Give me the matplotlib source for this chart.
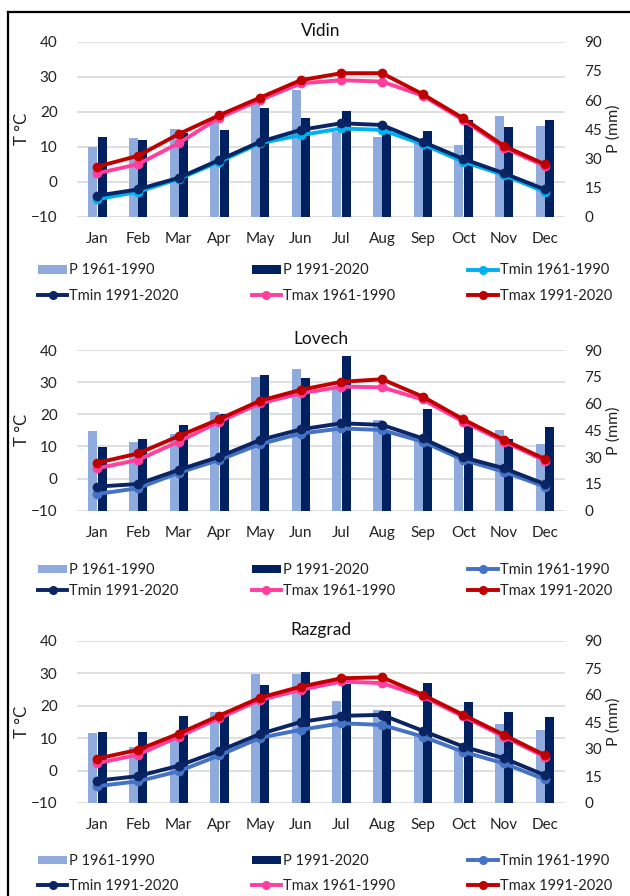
import matplotlib
matplotlib.use("Agg")
import matplotlib.pyplot as plt
from matplotlib.patches import Patch
from matplotlib.lines import Line2D
import numpy as np

plt.rcParams['font.family'] = ['Lato', 'DejaVu Sans']

months = ["Jan", "Feb", "Mar", "Apr", "May", "Jun", "Jul", "Aug", "Sep", "Oct", "Nov", "Dec"]
stations = ["Vidin", "Lovech", "Razgrad"]

# Precipitation (mm)
p_old = {
    "Vidin":   [35.7, 40.6, 44.9, 49.5, 58.3, 65.1, 43.7, 41.1, 37.7, 36.9, 51.8, 46.8],
    "Lovech":  [44.8, 38.3, 42.9, 55.5, 75.1, 79.2, 68.0, 50.8, 39.6, 31.0, 45.2, 37.3],
    "Razgrad": [38.8, 31.0, 35.7, 50.5, 71.7, 71.7, 56.7, 51.8, 37.9, 30.0, 43.7, 40.6],
}
p_new = {
    "Vidin":   [41.1, 39.4, 43.0, 44.6, 55.7, 50.9, 54.3, 45.0, 44.2, 49.5, 46.3, 49.7],
    "Lovech":  [35.8, 40.1, 48.0, 54.1, 76.0, 74.1, 86.6, 44.0, 56.8, 47.4, 40.0, 46.7],
    "Razgrad": [39.7, 39.7, 48.1, 48.6, 65.6, 72.6, 66.0, 51.2, 66.5, 55.9, 50.4, 47.6],
}
# Temperatures (deg C)
tmin_old = {
    "Vidin":   [-5.0, -2.9, 0.8, 5.7, 11.0, 13.3, 15.2, 14.8, 10.7, 5.7, 1.9, -2.9],
    "Lovech":  [-4.8, -3.0, 1.8, 5.8, 10.7, 14.0, 15.6, 15.1, 11.5, 5.8, 2.1, -2.5],
    "Razgrad": [-4.8, -3.3, -0.2, 4.7, 10.1, 12.6, 14.6, 14.1, 10.5, 5.8, 2.2, -2.7],
}
tmin_new = {
    "Vidin":   [-4.0, -2.2, 1.1, 6.2, 11.4, 14.8, 16.7, 16.2, 11.4, 6.5, 2.4, -2.2],
    "Lovech":  [-2.5, -1.7, 2.7, 6.8, 12.0, 15.3, 17.2, 16.7, 12.5, 6.6, 3.2, -1.7],
    "Razgrad": [-3.1, -1.7, 1.5, 6.1, 11.3, 15.0, 16.9, 17.2, 12.3, 7.4, 3.8, -1.4],
}
tmax_old = {
    "Vidin":   [2.4, 5.0, 11.0, 18.3, 23.3, 28.1, 29.0, 28.6, 24.6, 17.6, 9.7, 4.5],
    "Lovech":  [3.2, 5.8, 11.5, 17.7, 23.4, 26.5, 28.6, 28.4, 24.6, 17.7, 11.5, 5.6],
    "Razgrad": [2.3, 4.9, 10.5, 16.2, 21.8, 24.9, 27.5, 27.0, 22.9, 16.7, 10.5, 4.3],
}
tmax_new = {
    "Vidin":   [4.3, 7.4, 13.6, 19.0, 24.0, 29.0, 31.0, 31.0, 25.0, 18.1, 10.2, 5.0],
    "Lovech":  [4.9, 7.8, 13.2, 18.5, 24.2, 27.6, 30.1, 30.9, 25.5, 18.4, 12.0, 6.1],
    "Razgrad": [3.7, 6.4, 11.4, 17.0, 22.5, 25.9, 28.5, 28.8, 23.4, 17.2, 11.0, 4.8],
}
t_ticks = [-10, 0, 10, 20, 30, 40]
p_ticks = [0, 15, 30, 45, 60, 75, 90]

C_POLD = "#8FAADC"
C_PNEW = "#002060"
C_TMIN_OLD = {"Vidin": "#00B0F0", "Lovech": "#4472C4", "Razgrad": "#4472C4"}
C_TMIN_NEW = "#0B2463"
C_TMAX_OLD = "#FF3E9E"
C_TMAX_NEW = "#C00000"

W, H = 630, 896
fig = plt.figure(figsize=(W / 100, H / 100), dpi=100)

# panel extents in pixels (top, bottom)
panels = {"Vidin": (41.7, 216.7), "Lovech": (350, 510.7), "Razgrad": (641, 803)}
legend_rows = {"Vidin": (270, 296), "Lovech": (570, 591), "Razgrad": (861, 886)}
legend_spacing = {"Vidin": 0.78, "Lovech": 0.45, "Razgrad": 0.72}
x_left, x_right = 77, 565

fs_tick = 11
x = np.arange(len(months))
bw = 0.22

for st in stations:
    top, bot = panels[st]
    rect = [x_left / W, 1 - bot / H, (x_right - x_left) / W, (bot - top) / H]
    ax = fig.add_axes(rect)
    ax.set_ylim(-10, 40)
    ax.set_xlim(-0.5, 11.5)
    ax.set_yticks(t_ticks)
    ax.set_xticks(x)
    ax.set_xticklabels(months)
    ax.grid(axis='y', color="#D9D9D9", lw=1.2)
    ax.set_axisbelow(True)
    for s in ax.spines.values():
        s.set_visible(False)
    ax.tick_params(axis='both', length=0, labelsize=fs_tick, colors="#222222")
    ax.tick_params(axis='y', pad=14)
    ax.tick_params(axis='x', pad=11)
    ax.set_ylabel("T °C", fontsize=12, color="#222222")
    ax.yaxis.set_label_coords(-0.097, 0.5)
    ax.set_title(st, fontsize=12.5, pad=4, color="#111111")

    axp = ax.twinx()
    axp.set_ylim(0, 90)
    axp.set_yticks(p_ticks)
    for s in axp.spines.values():
        s.set_visible(False)
    axp.tick_params(axis='y', length=0, labelsize=fs_tick, pad=14, colors="#222222")
    axp.bar(x - bw / 2, p_old[st], width=bw, color=C_POLD, zorder=2)
    axp.bar(x + bw / 2 + 0.01, p_new[st], width=bw, color=C_PNEW, zorder=2)
    axp.set_ylabel("P (mm)", fontsize=11.5, color="#222222")
    axp.yaxis.set_label_coords(1.085, 0.5)

    axl = ax.twinx()
    axl.set_ylim(-10, 40)
    axl.set_yticks([])
    for s in axl.spines.values():
        s.set_visible(False)
    kw = dict(lw=2.8, marker='o', ms=6)
    axl.plot(x, tmin_old[st], color=C_TMIN_OLD[st], **kw)
    axl.plot(x, tmin_new[st], color=C_TMIN_NEW, **kw)
    axl.plot(x, tmax_old[st], color=C_TMAX_OLD, **kw)
    axl.plot(x, tmax_new[st], color=C_TMAX_NEW, **kw)

    # legend
    lkw = dict(lw=2.8, marker='o', ms=5.5)
    h_pold = Patch(facecolor=C_POLD, edgecolor='none')
    h_pnew = Patch(facecolor=C_PNEW, edgecolor='none')
    h_tmin_old = Line2D([], [], color=C_TMIN_OLD[st], **lkw)
    h_tmin_new = Line2D([], [], color=C_TMIN_NEW, **lkw)
    h_tmax_old = Line2D([], [], color=C_TMAX_OLD, **lkw)
    h_tmax_new = Line2D([], [], color=C_TMAX_NEW, **lkw)
    handles = [h_pold, h_tmin_new, h_pnew, h_tmax_old, h_tmin_old, h_tmax_new]
    labels = ["P 1961-1990", "Tmin 1991-2020", "P 1991-2020", "Tmax 1961-1990",
              "Tmin 1961-1990", "Tmax 1991-2020"]
    r1, r2 = legend_rows[st]
    yc = 1 - (r1 + r2) / 2 / H
    fig.legend(handles, labels, ncol=3, loc='center',
               bbox_to_anchor=(38 / W, yc - 0.03, (612 - 38) / W, 0.06),
               mode='expand', frameon=False, fontsize=10.5,
               handlelength=2.0, handleheight=0.55, handletextpad=0.15,
               labelspacing=legend_spacing[st], borderaxespad=0, borderpad=0,
               labelcolor="#222222")

# outer frame (left and top edges)
fig.add_artist(Line2D([8 / W, 8 / W], [0, 1 - 12 / H], color='black', lw=1.6,
                      transform=fig.transFigure))
fig.add_artist(Line2D([8 / W, 1], [1 - 12 / H, 1 - 12 / H], color='black', lw=1.6,
                      transform=fig.transFigure))

fig.savefig("out.png", dpi=100, facecolor='white')
